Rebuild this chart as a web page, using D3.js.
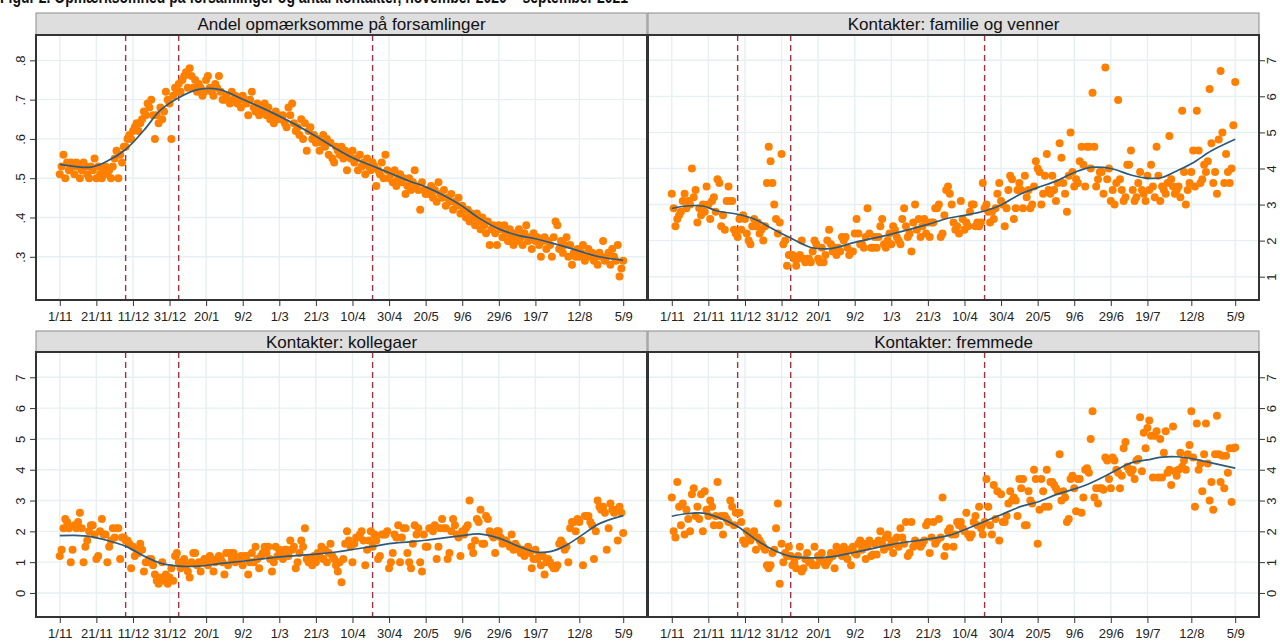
<!DOCTYPE html>
<html>
<head>
<meta charset="utf-8">
<script src="https://cdn.jsdelivr.net/npm/d3@7"></script>
<style>
  body { margin: 0; background: #fff; }
  svg { display: block; font-family: "Liberation Sans", Arial, sans-serif; }
</style>
</head>
<body>
<svg id="chart" width="1280" height="644"></svg>
<script>
// ---- data -------------------------------------------------------------
const firstDay = "2020-11-01";            // day index 0 of every daily series
const xStart = "2020-10-19";
const xEnd = "2021-09-18";

const tickDates = ["2020-11-01","2020-11-21","2020-12-11","2020-12-31","2021-01-20","2021-02-09",
  "2021-03-01","2021-03-21","2021-04-10","2021-04-30","2021-05-20","2021-06-09","2021-06-29",
  "2021-07-19","2021-08-12","2021-09-05"];
const tickLabels = ["1/11","21/11","11/12","31/12","20/1","9/2","1/3","21/3","10/4","30/4",
  "20/5","9/6","29/6","19/7","12/8","5/9"];

const eventDates = ["2020-12-07","2021-01-05","2021-04-21"];

const panelTitles = ["Andel opmærksomme på forsamlinger","Kontakter: familie og venner",
  "Kontakter: kollegaer","Kontakter: fremmede"];

const shareTicks = [0.3,0.4,0.5,0.6,0.7,0.8];
const shareTickLabels = [".3",".4",".5",".6",".7",".8"];
const familyTicks = [1,2,3,4,5,6,7];
const contactTicks = [0,1,2,3,4,5,6,7];

// daily values, 1/11 2020 - 5/9 2021
const shareValues = [
  .51,.53,.56,.50,.54,.52,.54,.53,.51,.54,.53,.50,.52,.54,.53,.51,.50,.53,.52,.55,
  .50,.53,.51,.50,.52,.53,.51,.52,.50,.53,.55,.57,.50,.56,.54,.58,
  .58,.60,.61,.60,.62,.63,.64,.62,.64,.65,.67,.66,.69,.68,.70,.66,
  .60,.66,.64,.68,.65,.67,.72,.70,.69,.60,.71,.73,.72,
  .74,.72,.75,.76,.77,.73,.78,.76,.73,.75,.72,.74,.73,.71,.72,.75,.76,.73,.72,.71,.74,.73,.76,.72,.70,.70,
  .71,.70,.69,.72,.70,.71,.69,.70,.68,.71,.70,.69,.66,.70,.72,.68,.67,.69,.66,.68,.67,.69,.66,.68,.65,.66,.64,.67,.65,.66,
  .65,.66,.64,.63,.68,.66,.69,.64,.62,.63,.61,.65,.60,.64,.57,.62,.63,.60,.61,.59,
  .60,.57,.59,.61,.58,.60,.56,.59,.55,.54,.58,.57,.56,.58,.55,.57,.52,.56,.55,.57,.54,.55,.52,.56,.53,.54,.51,.55,.53,.52,.54,
  .53,.48,.52,.51,.54,.50,.56,.52,.50,.51,.49,.52,.48,.50,.51,.49,.50,.46,.48,.50,.47,.49,.52,.48,.47,.42,.49,.47,.46,
  .47,.46,.48,.45,.47,.44,.49,.46,.45,.47,.43,.45,.44,.46,.42,.44,.43,.45,.41,.43,
  .42,.40,.42,.39,.41,.40,.38,.41,.39,.37,.40,.38,.36,.39,.33,.37,.38,.36,.33,.38,
  .37,.35,.38,.36,.34,.37,.35,.33,.36,.34,.37,.35,.33,.36,.38,.34,.35,.32,.36,.34,
  .35,.33,.30,.34,.35,.32,.34,.33,.30,.35,.39,.38,.32,.34,.31,.33,.35,.30,.33,.28,
  .31,.30,.32,.30,.31,.33,.29,.30,.32,.30,.31,.29,.30,.28,.31,.30,.34,.29,.30,.31,.28,.32,.30,.29,.33,.25,.27,.29
];

const familyValues = [
  3.3,2.9,2.4,2.6,2.7,2.8,3.1,3.3,2.9,3.1,3.0,4.0,3.2,3.4,2.5,2.9,2.7,3.0,2.8,3.5,3.0,
  2.6,3.1,3.2,2.8,3.7,3.6,2.4,2.7,2.3,3.1,3.5,3.1,3.1,2.3,2.2,2.1,
  2.6,2.3,2.7,2.6,2.2,2.0,1.9,2.4,2.6,2.4,2.5,2.2,2.3,2.0,2.4,
  3.6,4.6,4.2,3.6,3.0,2.6,2.2,2.5,4.4,1.9,2.0,1.3,1.6,
  1.6,1.6,1.5,1.3,1.5,1.6,2.0,1.5,1.4,1.5,1.5,1.4,1.7,2.0,1.9,1.5,1.4,1.8,1.4,1.6,2.0,2.3,1.9,1.7,1.8,1.6,
  1.8,1.7,2.1,2.0,2.1,1.8,1.6,1.7,1.7,2.2,2.6,2.2,1.9,1.9,1.8,2.1,2.9,2.2,1.8,1.8,2.1,1.8,2.1,2.4,2.6,1.9,1.8,2.0,2.2,1.9,
  2.4,2.3,2.1,2.0,1.9,2.6,2.9,2.4,2.1,2.2,1.7,2.5,3.0,2.3,2.6,2.1,2.4,2.6,2.2,2.5,
  2.1,2.5,2.5,2.9,2.9,3.0,2.1,2.2,2.7,3.4,3.5,3.3,3.0,2.5,2.3,2.4,2.2,3.1,2.6,2.3,2.5,2.4,2.8,3.0,3.0,2.4,2.5,2.4,2.5,3.6,2.9,
  3.0,2.8,2.5,2.8,2.6,2.9,3.3,3.6,3.1,3.0,2.4,2.9,3.4,3.8,3.7,2.6,2.9,3.4,3.6,3.4,2.9,3.8,3.2,3.4,2.9,3.0,3.5,4.2,4.0,
  3.9,3.0,3.3,3.8,4.4,3.4,3.3,3.8,3.4,3.1,3.6,4.7,4.3,3.6,3.3,2.8,3.8,5.0,3.9,3.5,
  3.7,3.6,4.2,4.6,4.1,3.5,4.6,4.6,4.0,6.1,4.6,3.5,3.7,3.9,3.9,3.3,6.8,3.7,4.0,3.1,
  3.4,3.0,3.6,5.9,3.7,3.4,3.1,3.2,4.1,4.1,4.5,3.4,3.1,3.2,3.6,3.9,3.4,3.3,3.1,3.8,
  3.4,4.1,3.5,3.2,4.6,3.8,3.1,3.5,3.4,3.3,3.6,4.9,3.7,3.5,3.3,3.4,3.5,3.2,5.6,3.9,
  3.0,3.4,3.6,3.9,4.5,3.5,5.6,4.5,3.6,3.7,4.1,3.9,4.2,6.2,4.7,3.6,3.9,3.3,4.8,6.7,5.0,3.6,4.4,3.9,3.6,4.0,5.2,6.4
];

const colleagueValues = [
  1.2,1.4,2.1,2.4,2.3,2.1,1.0,1.4,2.2,2.1,2.3,2.6,2.1,1.0,1.5,1.7,2.0,2.2,2.2,1.9,1.1,
  1.2,2.0,2.4,1.9,1.9,1.0,1.5,1.7,2.1,1.8,2.1,2.1,1.1,1.8,1.8,1.7,
  1.7,1.6,0.8,1.5,1.2,1.4,1.3,1.6,1.4,0.7,1.0,1.0,1.1,1.1,0.9,0.6,0.4,0.3,0.5,1.0,0.4,0.6,0.3,0.5,0.8,0.4,1.2,1.3,
  1.0,0.8,1.0,1.1,0.9,0.7,0.5,1.0,1.3,1.3,0.9,1.0,0.7,1.0,1.1,1.1,0.9,1.2,1.1,0.7,1.0,1.1,1.2,1.1,1.0,0.6,
  1.3,0.9,1.3,1.1,1.3,1.0,1.1,1.1,1.2,0.9,1.2,1.2,0.6,1.0,1.3,1.0,1.5,1.1,0.8,1.2,1.3,1.5,1.3,1.5,1.1,0.7,1.0,1.5,1.2,1.4,
  1.3,1.1,1.4,1.4,1.2,1.7,1.4,1.5,0.8,1.0,1.3,1.7,1.5,2.1,1.1,1.0,1.1,0.9,1.2,1.0,
  1.3,1.2,1.5,1.1,1.4,1.0,1.3,1.6,1.2,1.1,0.9,0.7,1.0,0.35,1.1,1.6,2.0,1.7,1.5,1.0,1.6,1.8,1.8,1.9,2.0,1.7,0.9,1.4,1.7,2.0,1.5,
  1.9,1.7,1.1,1.2,1.9,1.9,1.9,2.0,0.8,1.0,1.3,1.9,1.8,2.2,1.0,1.8,2.1,2.1,1.3,1.0,0.8,1.6,2.2,1.9,2.1,1.0,0.7,1.9,1.5,
  1.5,2.1,2.1,2.0,2.2,1.1,1.5,2.1,2.4,2.1,2.1,1.1,1.3,2.0,2.4,2.2,1.9,1.8,1.2,2.0,
  1.9,2.1,2.2,3.0,1.5,1.3,1.7,2.4,2.3,2.7,1.6,1.6,2.5,2.4,2.0,1.9,1.8,1.3,2.0,2.0,
  1.8,1.6,1.7,1.7,1.6,1.5,1.9,1.4,1.6,1.5,1.4,1.3,1.4,1.2,1.4,1.5,1.3,0.8,1.1,1.4,
  1.1,1.2,0.9,1.2,0.6,1.0,1.1,1.0,0.9,0.8,0.8,0.9,1.6,1.7,1.6,1.4,1.5,1.0,2.1,2.3,
  2.3,2.0,2.4,2.3,1.7,0.9,2.5,2.5,2.5,2.3,2.2,1.1,2.0,3.0,2.8,2.7,2.8,2.6,1.4,2.1,2.9,2.7,2.6,2.7,1.7,2.8,2.6,1.95
];

const strangerValues = [
  3.1,2.0,1.8,3.6,2.8,2.2,2.9,1.9,2.7,2.4,2.0,3.2,3.4,2.5,2.8,2.4,3.2,2.0,3.3,2.7,2.5,
  3.0,2.8,2.2,2.5,3.6,2.2,2.5,1.9,2.5,2.4,2.3,3.0,2.8,2.2,2.6,2.6,
  2.6,2.3,1.7,1.6,2.0,1.9,1.7,1.9,2.0,1.4,1.8,1.7,1.6,1.5,1.4,0.9,0.8,0.9,1.3,1.4,2.1,2.9,0.3,1.6,1.0,1.3,1.2,1.5,
  1.2,0.9,1.0,0.8,1.2,1.5,0.7,0.8,1.1,1.3,1.0,1.0,0.9,1.5,0.9,1.2,1.1,1.3,1.0,0.9,1.0,1.1,1.3,1.2,0.8,1.5,
  1.35,1.4,1.2,1.5,1.3,1.1,1.4,0.9,1.5,1.3,1.25,1.6,1.7,1.4,1.6,1.1,1.5,1.7,1.2,1.25,1.6,1.25,1.7,2.0,1.6,1.4,1.8,1.9,1.5,1.7,
  1.3,1.6,1.8,1.5,2.1,1.8,1.6,2.3,1.2,1.3,2.3,1.5,1.7,1.6,1.6,1.5,1.6,1.7,2.2,2.3,
  1.3,1.8,2.3,1.6,1.7,2.4,1.8,3.1,1.2,1.5,2.0,2.1,1.9,1.5,1.9,2.3,2.2,2.3,2.1,2.0,2.6,1.9,1.8,1.9,2.3,2.5,2.2,2.8,2.1,1.9,2.3,
  3.7,2.8,2.2,1.9,3.5,2.4,3.3,1.7,3.2,2.3,2.3,2.5,2.9,3.3,3.0,3.1,3.0,2.5,3.7,3.4,3.7,2.2,2.2,3.3,3.0,2.9,4.0,3.7,1.6,
  2.7,3.7,3.3,2.8,4.0,2.8,3.6,3.6,3.5,3.4,3.3,4.5,3.0,3.3,3.1,2.3,2.4,3.7,3.8,3.4,
  2.65,3.7,3.7,2.6,3.1,4.0,4.05,3.9,5.0,5.9,3.1,3.4,2.9,3.4,3.4,3.35,4.4,4.3,3.7,3.4,
  4.4,4.3,4.0,3.9,3.4,3.8,4.7,4.9,4.1,4.0,3.9,4.0,3.7,4.3,4.35,5.7,3.95,5.2,4.7,5.35,
  5.6,5.1,3.75,5.1,5.25,3.75,5.0,3.75,4.55,5.25,3.9,4.0,3.5,5.4,3.95,3.8,4.0,4.55,4.1,4.3,
  4.0,4.5,4.8,5.9,4.4,2.8,5.5,4.0,4.2,3.3,4.5,5.5,4.2,3.0,3.6,2.7,4.5,5.75,4.5,3.6,4.45,3.4,4.45,3.9,4.7,2.95,4.7,4.72
];

// smoothed trend, sampled at these day indices
const smoothDays = [0,8,17,25,36,46,55,65,76,87,100,120,140,151,160,171,180,191,200,210,220,229,240,251,260,268,276,285,295,308];
const shareSmooth = [.535,.530,.528,.541,.573,.622,.673,.705,.726,.726,.701,.658,.607,.575,.552,.531,.514,.493,.478,.456,.429,.399,.371,.354,.346,.336,.326,.313,.300,.291];
const familySmooth = [2.89,2.96,2.96,2.82,2.73,2.58,2.33,2.07,1.81,1.78,1.95,2.18,2.45,2.62,2.70,2.82,2.99,3.30,3.47,3.65,3.89,4.03,4.00,3.82,3.73,3.75,3.93,4.16,4.49,4.81];
const colleagueSmooth = [1.86,1.87,1.83,1.72,1.52,1.20,0.97,0.87,0.87,0.95,1.03,1.17,1.26,1.33,1.41,1.51,1.60,1.66,1.71,1.79,1.86,1.92,1.78,1.51,1.33,1.34,1.52,1.86,2.25,2.51];
const strangerSmooth = [2.49,2.57,2.59,2.46,2.16,1.73,1.41,1.19,1.14,1.17,1.32,1.57,1.75,1.86,2.05,2.32,2.54,2.81,2.95,3.19,3.37,3.57,3.89,4.22,4.32,4.41,4.42,4.35,4.22,4.05];

// ---- drawing ----------------------------------------------------------
const parseDate = d3.utcParse("%Y-%m-%d");
const day0 = parseDate(firstDay);
const dayDate = i => d3.utcDay.offset(day0, i);

const W = 611, H = 265;
const svg = d3.select("#chart");

// heading line above the panels (runs off the top edge)
svg.append("text")
  .attr("x", 0).attr("y", 3)
  .attr("font-size", 18).attr("font-weight", "bold").attr("fill", "#111")
  .attr("textLength", 628).attr("lengthAdjust", "spacingAndGlyphs")
  .text("Figur 2. Opmærksomhed på forsamlinger og antal kontakter, november 2020 – september 2021");

const panels = [
  { title: panelTitles[0], values: shareValues, smooth: shareSmooth, domain: [0.19, 0.8645],
    ticks: shareTicks, labels: shareTickLabels, left: 36, top: 35, headTop: 13, side: "left" },
  { title: panelTitles[1], values: familyValues, smooth: familySmooth, domain: [0.354, 7.70],
    ticks: familyTicks, labels: familyTicks.map(String), left: 648, top: 35, headTop: 13, side: "right" },
  { title: panelTitles[2], values: colleagueValues, smooth: colleagueSmooth, domain: [-0.78, 7.82],
    ticks: contactTicks, labels: contactTicks.map(String), left: 36, top: 352, headTop: 331, side: "left" },
  { title: panelTitles[3], values: strangerValues, smooth: strangerSmooth, domain: [-0.78, 7.82],
    ticks: contactTicks, labels: contactTicks.map(String), left: 648, top: 352, headTop: 331, side: "right" }
];

const tickDateObjs = tickDates.map(parseDate);
const eventDateObjs = eventDates.map(parseDate);

panels.forEach(p => {
  const g = svg.append("g");
  const x = d3.scaleUtc().domain([parseDate(xStart), parseDate(xEnd)]).range([p.left, p.left + W]);
  const y = d3.scaleLinear().domain(p.domain).range([p.top + H, p.top]);

  // heading strip
  g.append("rect")
    .attr("x", p.left).attr("y", p.headTop)
    .attr("width", W).attr("height", p.top - p.headTop)
    .attr("fill", "#dedede").attr("stroke", "#8c8c8c").attr("stroke-width", 1);
  g.append("text")
    .attr("x", p.left + W / 2).attr("y", p.headTop + (p.top - p.headTop) / 2 + 6)
    .attr("text-anchor", "middle").attr("font-size", 17).attr("fill", "#111")
    .text(p.title);

  // grid
  g.append("g").selectAll("line").data(tickDateObjs).join("line")
    .attr("x1", d => x(d)).attr("x2", d => x(d))
    .attr("y1", p.top).attr("y2", p.top + H)
    .attr("stroke", "#e6eff1").attr("stroke-width", 1.4);
  g.append("g").selectAll("line").data(p.ticks).join("line")
    .attr("x1", p.left).attr("x2", p.left + W)
    .attr("y1", d => y(d)).attr("y2", d => y(d))
    .attr("stroke", "#e6eff1").attr("stroke-width", 1.4);

  // event markers
  g.append("g").selectAll("line").data(eventDateObjs).join("line")
    .attr("x1", d => x(d)).attr("x2", d => x(d))
    .attr("y1", p.top).attr("y2", p.top + H)
    .attr("stroke", "#9e3441").attr("stroke-width", 1.4)
    .attr("stroke-dasharray", "6,4");

  // daily observations
  g.append("g").selectAll("circle").data(p.values).join("circle")
    .attr("cx", (d, i) => x(dayDate(i)))
    .attr("cy", d => y(d))
    .attr("r", 4)
    .attr("fill", "#ff8000");

  // trend line
  const line = d3.line()
    .x((d, i) => x(dayDate(smoothDays[i])))
    .y(d => y(d))
    .curve(d3.curveCatmullRom.alpha(0.5));
  g.append("path").datum(p.smooth)
    .attr("d", line)
    .attr("fill", "none").attr("stroke", "#2d5a7b").attr("stroke-width", 1.7);

  // frame
  g.append("rect")
    .attr("x", p.left).attr("y", p.top).attr("width", W).attr("height", H)
    .attr("fill", "none").attr("stroke", "#333").attr("stroke-width", 2);

  // x axis
  const xa = g.append("g")
    .attr("transform", `translate(0,${p.top + H})`)
    .call(d3.axisBottom(x).tickValues(tickDateObjs)
      .tickFormat((d, i) => tickLabels[i]).tickSize(6).tickPadding(6));
  xa.select(".domain").remove();
  xa.selectAll(".tick line").attr("stroke", "#333");
  xa.selectAll(".tick text").attr("font-size", 13).attr("fill", "#222")
    .attr("font-family", "Liberation Sans, Arial, sans-serif");

  // y axis
  const left = p.side === "left";
  const axis = (left ? d3.axisLeft(y) : d3.axisRight(y))
    .tickValues(p.ticks).tickFormat((d, i) => p.labels[i]).tickSize(6);
  const ya = g.append("g")
    .attr("transform", `translate(${left ? p.left : p.left + W},0)`)
    .call(axis);
  ya.select(".domain").remove();
  ya.selectAll(".tick line").attr("stroke", "#333");
  ya.selectAll(".tick text")
    .attr("font-size", 13).attr("fill", "#222")
    .attr("font-family", "Liberation Sans, Arial, sans-serif")
    .attr("text-anchor", "middle")
    .attr("transform", "rotate(-90)")
    .attr("x", 0).attr("dy", null)
    .attr("y", left ? -11 : 17);
});
</script>
</body>
</html>
